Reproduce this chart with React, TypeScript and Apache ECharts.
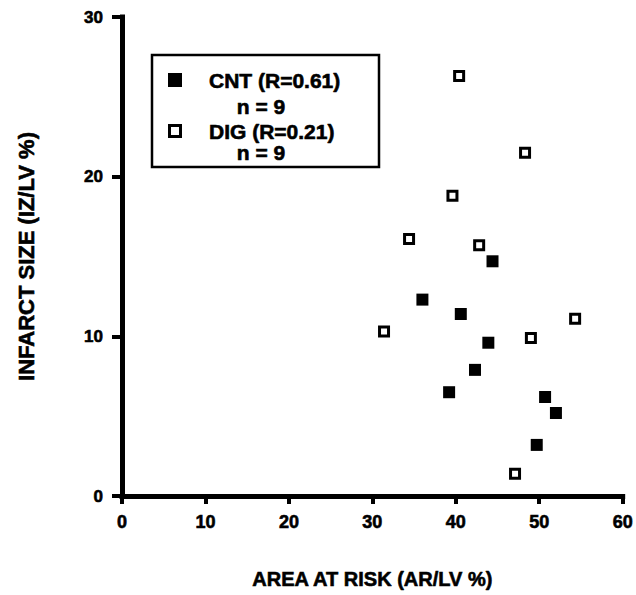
import React, { useEffect, useRef } from "react";
import * as echarts from "echarts";

const cntName = "CNT (R=0.61)";
const digName = "DIG (R=0.21)";
const cntN = "n = 9";
const digN = "n = 9";

const cntX = [44.4, 36.0, 40.6, 43.9, 42.3, 39.2, 50.7, 52.0, 49.7];
const cntY = [14.7, 12.3, 11.4, 9.6, 7.9, 6.5, 6.2, 5.2, 3.2];
const digX = [40.4, 48.3, 39.6, 34.4, 42.8, 54.3, 31.4, 49.0, 47.1];
const digY = [26.3, 21.5, 18.8, 16.1, 15.7, 11.1, 10.3, 9.9, 1.4];

const xTicks = [0, 10, 20, 30, 40, 50, 60];
const yTicks = [0, 10, 20, 30];

const xTitle = "AREA AT RISK (AR/LV %)";
const yTitle = "INFARCT SIZE (IZ/LV %)";

const FONT = "'Liberation Sans', Arial, sans-serif";
const heavy = { textBorderColor: "#000", textBorderWidth: 0.6 };

export default function App() {
  const ref = useRef<HTMLDivElement>(null);
  useEffect(() => {
    if (!ref.current) return;
    const chart = echarts.init(ref.current, null, { renderer: "svg" });
    const cntData = cntX.map((x, i) => [x, cntY[i]]);
    const digData = digX.map((x, i) => [x, digY[i]]);
    const legendText = (text: string, x: number, y: number, align: string) => ({
      type: "text",
      x,
      y,
      style: {
        text,
        fill: "#000",
        font: `bold 21px ${FONT}`,
        verticalAlign: "middle",
        align,
        stroke: "#000",
        lineWidth: 0.6,
      },
    });
    chart.setOption({
      animation: false,
      backgroundColor: "#fff",
      grid: { left: 122, right: 13, top: 17, bottom: 99 },
      xAxis: {
        type: "value",
        min: xTicks[0],
        max: xTicks[xTicks.length - 1],
        interval: 10,
        name: xTitle,
        nameLocation: "middle",
        nameGap: 73,
        nameTextStyle: { color: "#000", fontFamily: FONT, fontWeight: "bold", fontSize: 20, ...heavy },
        axisLine: { show: true, onZero: false, lineStyle: { color: "#000", width: 5, cap: "square" } },
        axisTick: { show: true, inside: false, length: 8, lineStyle: { color: "#000", width: 4 } },
        splitLine: { show: false },
        axisLabel: { show: true, color: "#000", fontFamily: FONT, fontWeight: "bold", fontSize: 18, margin: 17, ...heavy },
      },
      yAxis: {
        type: "value",
        min: yTicks[0],
        max: yTicks[yTicks.length - 1],
        interval: 10,
        name: yTitle,
        nameLocation: "middle",
        nameRotate: 90,
        nameGap: 85,
        nameTextStyle: { color: "#000", fontFamily: FONT, fontWeight: "bold", fontSize: 22, ...heavy },
        axisLine: { show: true, onZero: false, lineStyle: { color: "#000", width: 5, cap: "square" } },
        axisTick: { show: true, inside: false, length: 10, lineStyle: { color: "#000", width: 4 } },
        splitLine: { show: false },
        axisLabel: { show: true, color: "#000", fontFamily: FONT, fontWeight: "bold", fontSize: 17, margin: 19, ...heavy },
      },
      series: [
        {
          name: cntName,
          type: "scatter",
          data: cntData,
          symbol: "rect",
          symbolSize: 12,
          itemStyle: { color: "#000", opacity: 1 },
        },
        {
          name: digName,
          type: "scatter",
          data: digData,
          symbol: "rect",
          symbolSize: 9,
          itemStyle: { color: "#fff", borderColor: "#000", borderWidth: 3, opacity: 1 },
        },
      ],
      graphic: [
        {
          type: "rect",
          shape: { x: 152, y: 55, width: 227, height: 112 },
          style: { fill: "none", stroke: "#000", lineWidth: 2.5 },
        },
        {
          type: "rect",
          shape: { x: 168, y: 73, width: 14, height: 14 },
          style: { fill: "#000" },
        },
        legendText(cntName, 209, 80, "left"),
        legendText(cntN, 261, 106, "center"),
        {
          type: "rect",
          shape: { x: 169.5, y: 125.5, width: 11, height: 11 },
          style: { fill: "#fff", stroke: "#000", lineWidth: 3 },
        },
        legendText(digName, 209, 131, "left"),
        legendText(digN, 261, 152, "center"),
      ],
    });
    return () => chart.dispose();
  }, []);
  return (
    <div
      ref={ref}
      style={{ position: "fixed", left: 0, top: 0, width: 636, height: 595, background: "#fff" }}
    />
  );
}
